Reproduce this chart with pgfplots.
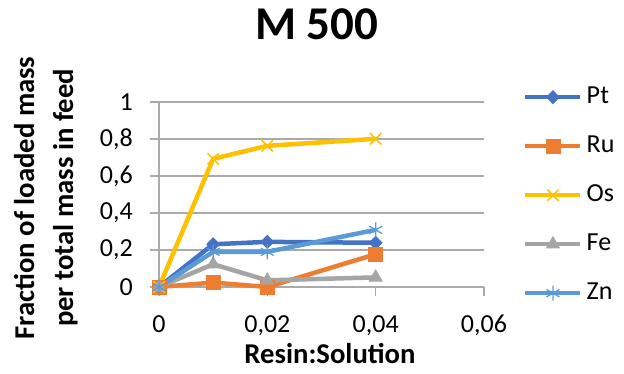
\documentclass[border=0pt]{standalone}
\usepackage{pgfplots}
\pgfplotsset{compat=1.18}
\usepackage{fontspec}
\setmainfont{Carlito}
\definecolor{cPt}{RGB}{68,114,196}
\definecolor{cRu}{RGB}{237,125,49}
\definecolor{cOs}{RGB}{255,192,0}
\definecolor{cFe}{RGB}{165,165,165}
\definecolor{cZn}{RGB}{91,155,213}
\definecolor{gridc}{RGB}{170,170,170}
\begin{document}
\begin{tikzpicture}
\useasboundingbox (-159pt,-87pt) rectangle (465pt,287pt);
\begin{axis}[
  at={(0pt,0pt)}, anchor=south west,
  scale only axis, width=325pt, height=185pt,
  xmin=0, xmax=0.06, ymin=0, ymax=1,
  clip=false,
  axis x line*=bottom, axis y line*=left,
  xtick={0,0.02,0.04,0.06}, ytick={0,0.2,0.4,0.6,0.8,1},
  scaled ticks=false,
  ymajorgrids,
  grid style={gridc, line width=1.2pt},
  axis line style={gridc, line width=1.2pt},
  tick style={gridc, line width=1.2pt},
  tick align=outside, major tick length=9pt,
  /pgf/number format/assume math mode=true,
  /pgf/number format/use comma,
  /pgf/number format/fixed,
  /pgf/number format/precision=2,
  ticklabel style={font=\fontsize{26}{31}\selectfont, inner sep=0pt, text=black},
  yticklabel style={anchor=east, xshift=-17pt},
  xticklabel style={anchor=north, yshift=-19pt},
  title={\textbf{M 500}},
  title style={font=\fontsize{47}{56}\selectfont, at={(0.485,1.389)}, anchor=center, inner sep=0pt},
  xlabel={\textbf{Resin:Solution}},
  xlabel style={font=\fontsize{28.7}{39}\selectfont, at={(0.526,-0.357)}, anchor=center, inner sep=0pt},
  ylabel={\textbf{Fraction of loaded mass}\\\textbf{per total mass in feed}},
  ylabel style={font=\fontsize{28.7}{39}\selectfont, align=center, at={(-0.348,0.481)}, anchor=center, rotate=0, inner sep=0pt},
  every axis plot/.append style={line width=4.5pt},
  legend style={at={(1.12,1.092)}, anchor=north west, draw=none, fill=none, inner sep=0pt,
    row sep=25pt, font=\fontsize{26}{31}\selectfont,
    nodes={inner sep=0pt, text height=18pt, text depth=6pt},
    /tikz/every odd column/.append style={column sep=4pt}},
  legend cell align=left,
  legend image code/.code={\draw[mark repeat=2, mark phase=2, #1] plot coordinates {(0pt,0pt) (27.5pt,0pt) (55pt,0pt)};},
]
\addplot[cPt, mark=diamond*, mark size=6.5pt, mark options={solid, line width=0.8pt, xscale=1.3}]
  coordinates {(0,0) (0.01,0.231) (0.02,0.244) (0.04,0.239)};
\addlegendentry{Pt}
\addplot[cRu, mark=square*, mark size=7pt, mark options={solid, line width=0.8pt}]
  coordinates {(0,0) (0.01,0.024) (0.02,0.0) (0.04,0.177)};
\addlegendentry{Ru}
\addplot[cOs, mark=x, mark size=8pt, mark options={solid, line width=1.5pt}]
  coordinates {(0,0) (0.01,0.693) (0.02,0.763) (0.04,0.801)};
\addlegendentry{Os}
\addplot[cFe, mark=triangle*, mark size=7.5pt, mark options={solid, line width=0.8pt}]
  coordinates {(0,0) (0.01,0.123) (0.02,0.036) (0.04,0.052)};
\addlegendentry{Fe}
\addplot[cZn, mark=asterisk, mark size=7.5pt, mark options={solid, line width=1.3pt}]
  coordinates {(0,0) (0.01,0.190) (0.02,0.190) (0.04,0.309)};
\addlegendentry{Zn}
\end{axis}
\end{tikzpicture}
\end{document}
